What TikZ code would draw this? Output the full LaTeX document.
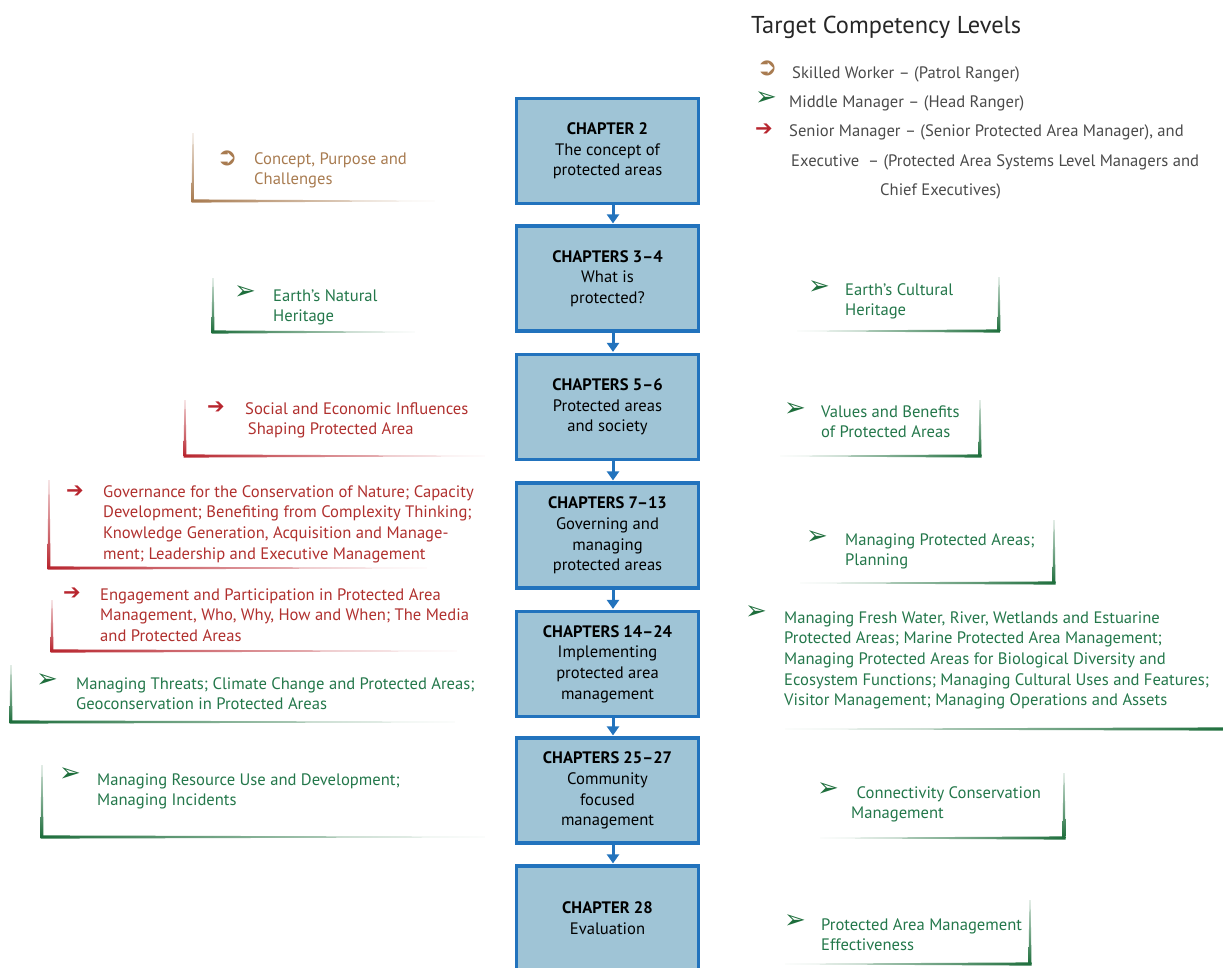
\documentclass[tikz,border=0pt]{standalone}
\usepackage{fontspec}
\setmainfont{PT Sans}
\newfontfamily\symfont{DejaVu Sans}
\newfontfamily\symboldfont{DejaVu Sans Bold}
\usetikzlibrary{arrows.meta}
\definecolor{boxblue}{HTML}{2273BD}
\definecolor{boxfill}{HTML}{9FC4D6}
\definecolor{skilled}{HTML}{A87B50}
\definecolor{middle}{HTML}{1E6E3C}
\definecolor{middletext}{HTML}{23774A}
\definecolor{senior}{HTML}{B8262F}
\definecolor{seniortext}{HTML}{B0302E}
\definecolor{legendgray}{HTML}{4A4A4A}
\newcommand{\bodyfont}{\fontsize{16.6}{20.7}\selectfont}
% bracket round a topic: colour, x of the upright, y top, y bottom, x where the base line ends
\newcommand{\topicleft}[5]{%
  \shade[top color=#1!20, bottom color=#1] (#2-0.6,#3) -- (#2+0.6,#3) -- (#2+1.5,#4) -- (#2-1.5,#4) -- cycle;
  \shade[left color=#1, right color=#1!5] (#2-1.5,#4-1.6) -- (#5,#4-0.3) -- (#5,#4+0.3) -- (#2-1.5,#4+1.6) -- cycle;}
\newcommand{\topicright}[5]{%
  \shade[top color=#1!20, bottom color=#1] (#2-0.6,#3) -- (#2+0.6,#3) -- (#2+1.5,#4) -- (#2-1.5,#4) -- cycle;
  \shade[left color=#1!5, right color=#1] (#5,#4-0.3) -- (#2+1.5,#4-1.6) -- (#2+1.5,#4+1.6) -- (#5,#4+0.3) -- cycle;}
\tikzset{
  chapbox/.style={draw=boxblue, line width=3.2pt, fill=boxfill, minimum width=182pt,
    minimum height=105pt, align=center, font=\bodyfont, inner sep=2pt},
  flowarrow/.style={draw=boxblue, line width=3pt, shorten >=1pt,
    -{Triangle[length=9pt,width=12pt]}},
  % base = baseline of the last line
  topic/.style={anchor=base west, align=left, inner sep=0pt, font=\bodyfont},
  % icons sit at the centre of the glyph
  skillicon/.style={anchor=center, inner sep=0pt, text=skilled, font=\symboldfont\fontsize{25}{25}\selectfont},
  mididicon/.style={anchor=center, inner sep=0pt, text=middle, font=\symfont\fontsize{26}{26}\selectfont},
  senicon/.style={anchor=center, inner sep=0pt, text=senior, font=\symfont\fontsize{21}{21}\selectfont},
  legend/.style={anchor=base west, inner sep=0pt, font=\bodyfont, text=legendgray},
}
\begin{document}
\begin{tikzpicture}[x=1pt, y=-1pt]
\useasboundingbox (0,0) rectangle (1223,967);
% legend
\node[anchor=base west, inner sep=0pt, font=\fontsize{24.4}{28}\selectfont, text=black!85] (title) at (751,33) {Target Competency Levels};
\node[skillicon] (lskilled) at (767,68) {➲};
\node[legend] (skilledtxt) at (792,78) {Skilled Worker – (Patrol Ranger)};
\node[mididicon] (lmiddle) at (766,99) {➢};
\node[legend] (middletxt) at (789,107) {Middle Manager – (Head Ranger)};
\node[senicon] (lsenior) at (764,130) {➔};
\node[legend] (seniortxt) at (789,136) {Senior Manager – (Senior Protected Area Manager), and};
\node[legend] (exectxt) at (791,166) {Executive \ – (Protected Area Systems Level Managers and};
\node[legend] (chieftxt) at (880,195) {Chief Executives)};
% chapters
\node[chapbox] (ch2) at (607.5,151) {\textbf{CHAPTER 2}\\The concept of\\protected areas};
\node[chapbox] (ch3) at (607.5,278.5) {\textbf{CHAPTERS 3–4}\\What is\\protected?};
\node[chapbox] (ch5) at (607.5,407) {\textbf{CHAPTERS 5–6}\\Protected areas\\and society};
\node[chapbox] (ch7) at (607.5,535.5) {\textbf{CHAPTERS 7–13}\\Governing and\\managing\\protected areas};
\node[chapbox] (ch14) at (607.5,664) {\textbf{CHAPTERS 14–24}\\Implementing\\protected area\\management};
\node[chapbox] (ch25) at (607.5,790.5) {\textbf{CHAPTERS 25–27}\\Community\\focused\\management};
\node[chapbox] (ch28) at (607.5,918.5) {\textbf{CHAPTER 28}\\Evaluation};
\foreach \a/\b in {ch2/ch3, ch3/ch5, ch5/ch7, ch7/ch14, ch14/ch25, ch25/ch28}
  \draw[flowarrow] ([xshift=5.5pt]\a.south) -- ([xshift=5.5pt]\b.north);
% topics on the left
\topicleft{skilled}{193}{133}{201}{435}
\node[skillicon] (i2) at (227,158) {➲};
\node[topic, text=skilled] (t2) at (254,184.7) {Concept, Purpose and\\Challenges};
\topicleft{middle}{213}{278}{332}{415}
\node[mididicon] (i3) at (245,293) {➢};
\node[topic, text=middletext] (t3) at (273,321.7) {Earth’s Natural\\Heritage};
\topicleft{senior}{185}{400}{456}{485}
\node[senicon] (i5) at (216,408) {➔};
\node[topic, text=seniortext] (t5) at (245,434.7) {Social and Economic Influences\\\,Shaping Protected Area};
\topicleft{senior}{49}{480}{568}{427}
\node[senicon] (i7) at (75,492) {➔};
\node[topic, text=seniortext] (t7) at (103,559.1) {Governance for the Conservation of Nature; Capacity\\Development; Benefiting from Complexity Thinking;\\Knowledge Generation, Acquisition and Manage-\\ment; Leadership and Executive Management};
\topicleft{senior}{52}{600}{651}{457}
\node[senicon] (i14a) at (72,594) {➔};
\node[topic, text=seniortext] (t14a) at (100,641.4) {Engagement and Participation in Protected Area\\Management, Who, Why, How and When; The Media\\and Protected Areas};
\topicleft{middle}{11}{665}{722}{455}
\node[mididicon] (i14b) at (47,681) {➢};
\node[topic, text=middletext] (t14b) at (76,709.7) {Managing Threats; Climate Change and Protected Areas;\\Geoconservation in Protected Areas};
\topicleft{middle}{42}{765}{837}{485}
\node[mididicon] (i25) at (70,775) {➢};
\node[topic, text=middletext] (t25) at (97,805.7) {Managing Resource Use and Development;\\Managing Incidents};
% topics on the right
\topicright{middle}{999}{277}{331}{797}
\node[mididicon] (i3r) at (819,288) {➢};
\node[topic, text=middletext] (t3r) at (845,315.7) {Earth’s Cultural\\Heritage};
\topicright{middle}{980}{400}{456}{780}
\node[mididicon] (i5r) at (795,410) {➢};
\node[topic, text=middletext] (t5r) at (821,437.7) {Values and Benefits\\of Protected Areas};
\topicright{middle}{1054}{520}{583}{800}
\node[mididicon] (i7r) at (817,538) {➢};
\node[topic, text=middletext] (t7r) at (845,565.7) {Managing Protected Areas;\\Planning};
\topicright{middle}{1226}{700}{729}{785}
\node[mididicon] (i14r) at (756,613) {➢};
\node[topic, text=middletext] (t14r) at (784,705.8) {Managing Fresh Water, River, Wetlands and Estuarine\\Protected Areas; Marine Protected Area Management;\\Managing Protected Areas for Biological Diversity and\\Ecosystem Functions; Managing Cultural Uses and Features;\\Visitor Management; Managing Operations and Assets};
\topicright{middle}{1064}{773}{838}{820}
\node[mididicon] (i25r) at (828,790) {➢};
\node[topic, text=middletext] (t25r) at (851,818.7) {\,\,Connectivity Conservation\\Management};
\topicright{middle}{1030}{900}{964}{785}
\node[mididicon] (i28r) at (795,922) {➢};
\node[topic, text=middletext] (t28r) at (821,950.7) {Protected Area Management\\Effectiveness};
\end{tikzpicture}
\end{document}
